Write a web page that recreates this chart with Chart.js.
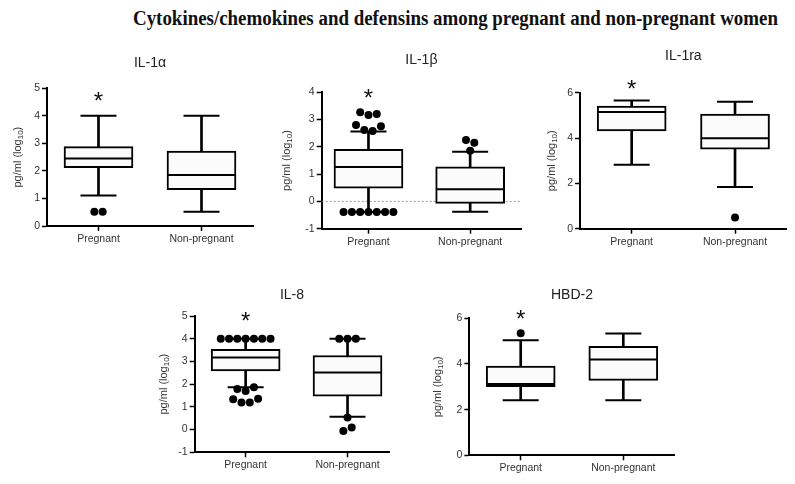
<!DOCTYPE html>
<html>
<head>
<meta charset="utf-8">
<script src="https://cdn.jsdelivr.net/npm/chart.js@4.4.1/dist/chart.umd.min.js"></script>
<style>
  html, body { margin: 0; padding: 0; background: #fff; width: 795px; height: 484px; overflow: hidden; }
  #mainTitle { position: absolute; left: 133px; top: 6px; white-space: nowrap; font: bold 20px 'Liberation Serif', 'Times New Roman', serif; line-height: 24px; color: #111; transform-origin: 0 50%; }
  canvas { position: absolute; }
</style>
</head>
<body>
<div id="mainTitle">Cytokines/chemokines and defensins among pregnant and non-pregnant women</div>
<canvas id="c1"></canvas>
<canvas id="c2"></canvas>
<canvas id="c3"></canvas>
<canvas id="c4"></canvas>
<canvas id="c5"></canvas>
<script>
// ---------------- DATA ----------------
const groups = ['Pregnant', 'Non-pregnant'];
const panelTitles = ['IL-1α', 'IL-1β', 'IL-1ra', 'IL-8', 'HBD-2'];
const yAxisLabelMain = 'pg/ml (log';
const yAxisLabelSub = '10';
const yAxisLabelEnd = ')';

// box summaries: [lower whisker, Q1, median, Q3, upper whisker]  (log10 pg/ml)
const il1aPregnant     = [1.11, 2.12, 2.45, 2.88, 4.00];
const il1aNonPregnant  = [0.52, 1.32, 1.85, 2.72, 4.00];
const il1bPregnant     = [-0.39, 0.49, 1.26, 1.91, 2.56];
const il1bNonPregnant  = [-0.38, -0.07, 0.45, 1.27, 1.82];
const il1raPregnant    = [2.82, 4.31, 5.15, 5.41, 5.66];
const il1raNonPregnant = [1.84, 3.51, 3.99, 5.06, 5.60];
const il8Pregnant      = [1.86, 2.58, 3.17, 3.53, 4.00];
const il8NonPregnant   = [0.56, 1.47, 2.51, 3.26, 4.00];
const hbd2Pregnant     = [2.41, 3.01, 3.12, 3.91, 5.04];
const hbd2NonPregnant  = [2.41, 3.28, 4.20, 4.77, 5.33];

// outliers, grouped in rows of similar value, listed left to right
const il1aOutliersPregnant     = [[0.52, 0.52]];
const il1aOutliersNonPregnant  = [];
const il1bOutliersPregnant     = [[3.27, 3.17, 3.20], [2.80, 2.62, 2.58, 2.76], [-0.39, -0.39, -0.39, -0.39, -0.39, -0.39, -0.39]];
const il1bOutliersNonPregnant  = [[2.25, 2.15], [1.86]];
const il1raOutliersPregnant    = [];
const il1raOutliersNonPregnant = [[0.49]];
const il8OutliersPregnant      = [[4.0, 4.0, 4.0, 4.0, 4.0, 4.0, 4.0], [1.79, 1.70, 1.86], [1.33, 1.19, 1.19, 1.36]];
const il8OutliersNonPregnant   = [[4.0, 4.0, 4.0], [0.53], [-0.06, 0.09]];
const hbd2OutliersPregnant     = [[5.34]];
const hbd2OutliersNonPregnant  = [];

// significance asterisk level above the Pregnant group
const asteriskLevels = [4.76, 4.02, 6.41, 5.04, 6.22];

// y tick labels
const il1aTicks  = [0, 1, 2, 3, 4, 5];
const il1bTicks  = [-1, 0, 1, 2, 3, 4];
const il1raTicks = [0, 2, 4, 6];
const il8Ticks   = [-1, 0, 1, 2, 3, 4, 5];
const hbd2Ticks  = [0, 2, 4, 6];

// ---------------- LAYOUT / STYLE ----------------
const FONT = "'Liberation Sans', Arial, Helvetica, sans-serif";
Chart.defaults.font.family = FONT;

const panels = [
  { id: 'c1', stats: [il1aPregnant, il1aNonPregnant], out: [il1aOutliersPregnant, il1aOutliersNonPregnant], ticks: il1aTicks, zeroLine: false,
    chartLeft: 47, chartRight: 253, chartTop: 88.3, chartBottom: 226, xMin: -0.5, xMax: 1.5, labelX: 18, titleY: 63.3 },
  { id: 'c2', stats: [il1bPregnant, il1bNonPregnant], out: [il1bOutliersPregnant, il1bOutliersNonPregnant], ticks: il1bTicks, zeroLine: true,
    chartLeft: 321.7, chartRight: 521, chartTop: 92.3, chartBottom: 228.7, xMin: -0.46, xMax: 1.5, labelX: 287, titleY: 60 },
  { id: 'c3', stats: [il1raPregnant, il1raNonPregnant], out: [il1raOutliersPregnant, il1raOutliersNonPregnant], ticks: il1raTicks, zeroLine: false,
    chartLeft: 580, chartRight: 786.7, chartTop: 92.7, chartBottom: 228.7, xMin: -0.5, xMax: 1.5, labelX: 552, titleY: 56.7 },
  { id: 'c4', stats: [il8Pregnant, il8NonPregnant], out: [il8OutliersPregnant, il8OutliersNonPregnant], ticks: il8Ticks, zeroLine: false,
    chartLeft: 194.7, chartRight: 389.3, chartTop: 316, chartBottom: 452.3, xMin: -0.5, xMax: 1.41, labelX: 164, titleY: 295 },
  { id: 'c5', stats: [hbd2Pregnant, hbd2NonPregnant], out: [hbd2OutliersPregnant, hbd2OutliersNonPregnant], ticks: hbd2Ticks, zeroLine: false,
    chartLeft: 469.4, chartRight: 674.6, chartTop: 318.3, chartBottom: 455.3, xMin: -0.5, xMax: 1.5, labelX: 437.5, titleY: 295 }
];

const BOX_W = 69, CAP_HALF = 18, DOT_R = 4, DOT_STEP_PX = 8.3;
const TITLE_SIZE = 14, TITLE_LH = 1.2, AX_SIZE = 10.5, AX_LH = 1.2, X_AXIS_H = 25;
const YLAB_SIZE = 11, YLAB_SUB = 8;

const extrasPlugin = {
  id: 'extras',
  afterDraw(chart, args, opts) {
    const { ctx, scales: { x, y }, chartArea } = chart;
    // significance asterisk
    const fs = 24;
    ctx.save();
    ctx.font = fs + 'px ' + FONT;
    ctx.fillStyle = '#111';
    ctx.textAlign = 'center';
    ctx.textBaseline = 'alphabetic';
    ctx.fillText('*', x.getPixelForValue(0), y.getPixelForValue(opts.level) + 0.575 * fs);
    ctx.restore();
    // rotated y-axis label with subscript
    ctx.save();
    const fMain = YLAB_SIZE + 'px ' + FONT, fSub = YLAB_SUB + 'px ' + FONT;
    ctx.font = fMain; const w1 = ctx.measureText(yAxisLabelMain).width; const w3 = ctx.measureText(yAxisLabelEnd).width;
    ctx.font = fSub; const w2 = ctx.measureText(yAxisLabelSub).width;
    const total = w1 + w2 + w3;
    ctx.translate(opts.labelX, (chartArea.top + chartArea.bottom) / 2);
    ctx.rotate(-Math.PI / 2);
    ctx.fillStyle = '#333';
    ctx.textAlign = 'left';
    ctx.textBaseline = 'middle';
    let px = -total / 2;
    ctx.font = fMain; ctx.fillText(yAxisLabelMain, px, 0); px += w1;
    ctx.font = fSub; ctx.fillText(yAxisLabelSub, px, 3); px += w2;
    ctx.font = fMain; ctx.fillText(yAxisLabelEnd, px, 0);
    ctx.restore();
  }
};

function swarm(rows, gi, stepX) {
  const pts = [];
  rows.forEach(row => row.forEach((v, k) => pts.push({ x: gi + (k - (row.length - 1) / 2) * stepX, y: v })));
  return pts;
}

panels.forEach((p, idx) => {
  const canvas = document.getElementById(p.id);
  const cl = Math.round(p.labelX - 12);
  const ct = Math.round(p.titleY - TITLE_SIZE * TITLE_LH / 2);
  const cr = Math.min(795, Math.round(p.chartRight + 8));
  const cb = Math.round(p.chartBottom + X_AXIS_H);
  const w = cr - cl, h = cb - ct;
  canvas.width = w; canvas.height = h;
  canvas.style.left = cl + 'px'; canvas.style.top = ct + 'px';
  canvas.style.width = w + 'px'; canvas.style.height = h + 'px';

  const st = {
    yW: p.chartLeft - cl,
    xH: X_AXIS_H,
    titlePad: p.chartTop - ct - TITLE_SIZE * TITLE_LH,
    padRight: cr - p.chartRight
  };
  const unitPx = (p.chartRight - p.chartLeft) / (p.xMax - p.xMin);
  const stepX = DOT_STEP_PX / unitPx;

  const datasets = [
    { type: 'bar', label: 'whiskers', data: p.stats.map((s, i) => ({ x: i, y: [s[0], s[4]] })),
      backgroundColor: '#000', borderWidth: 0, barThickness: 2, grouped: false, order: 6 },
    { type: 'bar', label: 'boxes', data: p.stats.map((s, i) => ({ x: i, y: [s[1], s[3]] })),
      backgroundColor: '#fbfbfb', borderColor: '#000', borderWidth: 2, borderSkipped: false,
      barThickness: BOX_W, grouped: false, order: 5 },
    { type: 'line', label: 'medians', data: p.stats.map((s, i) => ({ x: i, y: s[2] })), showLine: false,
      pointStyle: 'line', pointRadius: BOX_W / 2 - 1, pointBorderWidth: 2, pointBorderColor: '#000', order: 3, clip: false },
    { type: 'line', label: 'caps', data: p.stats.flatMap((s, i) => [{ x: i, y: s[0] }, { x: i, y: s[4] }]), showLine: false,
      pointStyle: 'line', pointRadius: CAP_HALF, pointBorderWidth: 2, pointBorderColor: '#000', order: 4, clip: false },
    { type: 'line', label: 'outliers', data: p.out.flatMap((rows, i) => swarm(rows, i, stepX)), showLine: false,
      pointStyle: 'circle', pointRadius: DOT_R, pointBackgroundColor: '#000', pointBorderWidth: 0, order: 1, clip: false }
  ];
  if (p.zeroLine) {
    datasets.push({ type: 'line', label: 'zero', data: [{ x: p.xMin, y: 0 }, { x: p.xMax, y: 0 }],
      borderColor: '#9a9a9a', borderWidth: 1, borderDash: [2, 2], pointRadius: 0, order: 10 });
  }

  const chart = new Chart(canvas, {
    type: 'bar',
    data: { datasets },
    options: {
      responsive: false, animation: false, events: [],
      layout: { autoPadding: false, padding: { left: 0, top: 0, right: st.padRight, bottom: 0 } },
      plugins: {
        legend: { display: false }, tooltip: { enabled: false },
        title: { display: true, text: panelTitles[idx], color: '#222', fullSize: false,
          font: { size: TITLE_SIZE, weight: 'normal', lineHeight: TITLE_LH }, padding: { top: 0, bottom: st.titlePad } },
        extras: { level: asteriskLevels[idx], labelX: p.labelX - cl }
      },
      scales: {
        x: {
          type: 'linear', min: p.xMin, max: p.xMax, offset: false,
          afterBuildTicks: s => { s.ticks = groups.map((g, i) => ({ value: i })); },
          afterFit: s => { s.height = st.xH; s.paddingLeft = 0; s.paddingRight = 0; s.paddingTop = 0; s.paddingBottom = 0; },
          ticks: { autoSkip: false, maxRotation: 0, minRotation: 0, padding: 2, color: '#333', font: { size: AX_SIZE, lineHeight: AX_LH },
            callback: v => groups[v] },
          grid: { offset: false, drawOnChartArea: false, drawTicks: true, tickLength: 5, tickColor: '#000', tickWidth: 1.5 },
          border: { display: true, color: '#000', width: 2 }
        },
        y: {
          type: 'linear', min: p.ticks[0], max: p.ticks[p.ticks.length - 1], beginAtZero: false,
          afterBuildTicks: s => { s.ticks = p.ticks.map(v => ({ value: v })); },
          afterFit: s => { s.width = st.yW; s.paddingLeft = 0; s.paddingRight = 0; s.paddingTop = 0; s.paddingBottom = 0; },
          ticks: { padding: 2, color: '#333', font: { size: AX_SIZE, lineHeight: AX_LH }, callback: v => String(v) },
          grid: { drawOnChartArea: false, drawTicks: true, tickLength: 5, tickColor: '#000', tickWidth: 1.5 },
          border: { display: true, color: '#000', width: 2 }
        }
      }
    },
    plugins: [extrasPlugin]
  });

  // safety: nudge the plot area onto the intended rectangle if the layout drifted
  const tTop = p.chartTop - ct, tBottom = p.chartBottom - ct, tLeft = p.chartLeft - cl, tRight = p.chartRight - cl;
  for (let k = 0; k < 3; k++) {
    const ca = chart.chartArea;
    const dT = tTop - ca.top, dB = ca.bottom - tBottom, dL = tLeft - ca.left, dR = ca.right - tRight;
    if (Math.abs(dT) < 0.3 && Math.abs(dB) < 0.3 && Math.abs(dL) < 0.3 && Math.abs(dR) < 0.3) break;
    st.titlePad = Math.max(0, st.titlePad + dT);
    st.xH = Math.max(20, st.xH + dB);
    st.yW += dL;
    st.padRight = Math.max(0, st.padRight + dR);
    chart.options.plugins.title.padding = { top: 0, bottom: st.titlePad };
    chart.options.layout.padding = { left: 0, top: 0, right: st.padRight, bottom: 0 };
    chart.update();
  }
});

// fit main title width to reference span
(function () {
  const el = document.getElementById('mainTitle');
  const target = 645;
  const wNow = el.getBoundingClientRect().width;
  if (wNow > 0) el.style.transform = 'scaleX(' + (target / wNow) + ')';
})();
</script>
</body>
</html>
